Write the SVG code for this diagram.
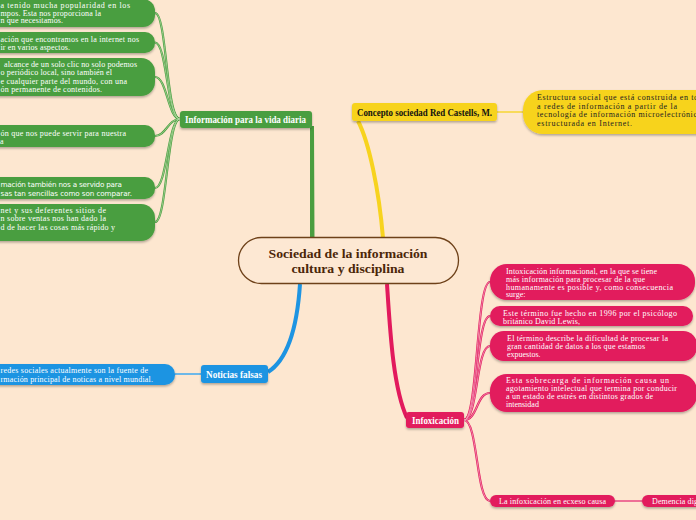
<svg xmlns="http://www.w3.org/2000/svg" width="696" height="520" viewBox="0 0 696 520">
<defs>
<filter id="sh" x="-10%" y="-20%" width="120%" height="160%">
<feDropShadow dx="0" dy="1.5" stdDeviation="1" flood-color="#000" flood-opacity="0.3"/>
</filter>
</defs>
<style>
.lf{font-family:"Liberation Serif","DejaVu Serif",serif;font-size:8px;fill:#fff}
.ls{font-family:"DejaVu Sans","Liberation Sans",sans-serif;font-size:7.2px;fill:#fff}
.tt{font-family:"Liberation Serif","DejaVu Serif",serif;font-weight:bold;font-size:9.5px}
.g{fill:#4a9e40}
.y{fill:#f7d31e}
.b{fill:#1d94e2}
.p{fill:#e21a5d}
.gc{fill:none;stroke:#4a9e40;stroke-width:2.2}
.gi{fill:none;stroke:#b9dea9;stroke-width:0.7}
.pc{fill:none;stroke:#e21a5d;stroke-width:2.2}
.pi{fill:none;stroke:#f6b3c8;stroke-width:0.7}
</style>
<rect width="696" height="520" fill="#fde7d0"/>

<g id="connectors">
<path d="M311,238 L313.5,238 L313,127 L311,127 Z" fill="#4a9e40" stroke="#4a9e40" stroke-width="2"/>
<path d="M383,238 C379,190 369,142 358,121" fill="none" stroke="#f7d31e" stroke-width="4"/>
<path d="M300,284 C297,330 287,360 268,372" fill="none" stroke="#1d94e2" stroke-width="4"/>
<path d="M387,284 C390,330 393,388 407,418" fill="none" stroke="#e21a5d" stroke-width="4"/>
<path d="M497,112 L523,112" stroke="#f8da5a" stroke-width="2" fill="none"/>
<path d="M201,374 L175,374" stroke="#6db8e8" stroke-width="2" fill="none"/>
<path d="M615,501 L642,501" stroke="#ee7096" stroke-width="2" fill="none"/>
<g>
<path class="gc" d="M180,119 C166,119 167,13 155,13"/>
<path class="gc" d="M180,119 C167,119 167,42.5 155,42.5"/>
<path class="gc" d="M180,119 C168,119 167,77 155,77"/>
<path class="gc" d="M180,119 C168,119 166,136 155,136"/>
<path class="gc" d="M180,119 C168,119 167,188 155,188"/>
<path class="gc" d="M180,119 C167,119 167,222 155,222"/>
<path class="gi" d="M180,119 C166,119 167,13 155,13"/>
<path class="gi" d="M180,119 C167,119 167,42.5 155,42.5"/>
<path class="gi" d="M180,119 C168,119 167,77 155,77"/>
<path class="gi" d="M180,119 C168,119 166,136 155,136"/>
<path class="gi" d="M180,119 C168,119 167,188 155,188"/>
<path class="gi" d="M180,119 C167,119 167,222 155,222"/>
</g>
<g>
<path class="pc" d="M464,420 C478,420 476,282 490,282"/>
<path class="pc" d="M464,420 C478,420 476,316 490,316"/>
<path class="pc" d="M464,420 C478,420 476,346 490,346"/>
<path class="pc" d="M464,420 C478,420 476,393 490,393"/>
<path class="pc" d="M464,420 C478,420 476,501 490,501"/>
<path class="pi" d="M464,420 C478,420 476,282 490,282"/>
<path class="pi" d="M464,420 C478,420 476,316 490,316"/>
<path class="pi" d="M464,420 C478,420 476,346 490,346"/>
<path class="pi" d="M464,420 C478,420 476,393 490,393"/>
<path class="pi" d="M464,420 C478,420 476,501 490,501"/>
</g>
</g>

<g id="center">
<rect x="238.5" y="237.5" width="220" height="46" rx="23" fill="#fde8d3" stroke="#6e4119" stroke-width="1.3"/>
<text x="348" y="258" text-anchor="middle" font-family="Liberation Serif, DejaVu Serif, serif" font-weight="bold" font-size="13" fill="#4b2608" textLength="159" lengthAdjust="spacingAndGlyphs">Sociedad de la información</text>
<text x="348" y="273" text-anchor="middle" font-family="Liberation Serif, DejaVu Serif, serif" font-weight="bold" font-size="13" fill="#4b2608" textLength="113" lengthAdjust="spacingAndGlyphs">cultura y disciplina</text>
</g>

<g id="info-vida">
<rect class="g" x="180" y="111" width="132" height="17" rx="3" filter="url(#sh)"/>
<text class="tt" x="185" y="122.5" fill="#fff" textLength="121" lengthAdjust="spacingAndGlyphs">Información para la vida diaria</text>
</g>
<g id="g1">
<rect class="g" x="-30" y="-1" width="185" height="28" rx="12" filter="url(#sh)"/>
<text class="lf" x="0.5" y="8" textLength="129.5" lengthAdjust="spacing">a tenido mucha popularidad en los</text>
<text class="lf" x="0.5" y="15.5" textLength="100.5" lengthAdjust="spacing">mpos. Esta nos proporciona la</text>
<text class="lf" x="0.5" y="23" textLength="62.5" lengthAdjust="spacing">n que necesitamos.</text>
</g>
<g id="g2">
<rect class="g" x="-30" y="32" width="185" height="21" rx="10" filter="url(#sh)"/>
<text class="lf" x="0.5" y="41.5" textLength="138.5" lengthAdjust="spacing">ación que encontramos en la internet nos</text>
<text class="lf" x="0.5" y="50" textLength="69.5" lengthAdjust="spacing">ir en varios aspectos.</text>
</g>
<g id="g3">
<rect class="g" x="-30" y="58" width="185" height="38" rx="14" filter="url(#sh)"/>
<text class="lf" x="4" y="66.5" textLength="133" lengthAdjust="spacing">alcance de un solo clic no solo podemos</text>
<text class="lf" x="0.5" y="75" textLength="111.5" lengthAdjust="spacing">o periódico local, sino también el</text>
<text class="lf" x="0.5" y="83.5" textLength="126.5" lengthAdjust="spacing">e cualquier parte del mundo, con una</text>
<text class="lf" x="0.5" y="92" textLength="101.5" lengthAdjust="spacing">ón permanente de contenidos.</text>
</g>
<g id="g4">
<rect class="g" x="-30" y="125" width="185" height="22" rx="10" filter="url(#sh)"/>
<text class="lf" x="0.5" y="136" textLength="125.5" lengthAdjust="spacing">ón que nos puede servir para nuestra</text>
<text class="lf" x="0" y="143.5">a</text>
</g>
<g id="g5">
<rect class="g" x="-30" y="177" width="185" height="22" rx="10" filter="url(#sh)"/>
<text class="ls" x="0.5" y="187" textLength="121.5" lengthAdjust="spacing">mación también nos a servido para</text>
<text class="ls" x="0.5" y="195.5" textLength="131.5" lengthAdjust="spacing">sas tan sencillas como son comparar.</text>
</g>
<g id="g6">
<rect class="g" x="-30" y="204" width="185" height="37" rx="14" filter="url(#sh)"/>
<text class="lf" x="0.5" y="212.5" textLength="105.5" lengthAdjust="spacing">net y sus deferentes sitios de</text>
<text class="lf" x="0.5" y="221" textLength="105.5" lengthAdjust="spacing">n sobre ventas nos han dado la</text>
<text class="lf" x="0.5" y="229.5" textLength="114.5" lengthAdjust="spacing">d de hacer las cosas más rápido y</text>
</g>

<g id="castells">
<rect class="y" x="352" y="103" width="145" height="18" rx="3" filter="url(#sh)"/>
<text class="tt" x="357" y="115.5" fill="#111" textLength="135" lengthAdjust="spacingAndGlyphs">Concepto sociedad Red Castells, M.</text>
</g>
<g id="castells-leaf">
<rect class="y" x="523" y="90" width="200" height="44" rx="20" filter="url(#sh)"/>
<text class="lf" x="537" y="100" style="fill:#222" textLength="161" lengthAdjust="spacing">Estructura social  que está construida en to</text>
<text class="lf" x="537" y="108.5" style="fill:#222" textLength="140" lengthAdjust="spacing">a redes de información a partir de la</text>
<text class="lf" x="537" y="117" style="fill:#222" textLength="160" lengthAdjust="spacing">tecnología de información microelectrónic</text>
<text class="lf" x="537" y="125.5" style="fill:#222" textLength="95" lengthAdjust="spacing">estructurada en Internet.</text>
</g>

<g id="noticias">
<rect class="b" x="201" y="365" width="67" height="18" rx="3" filter="url(#sh)"/>
<text class="tt" x="206" y="377.5" fill="#fff" textLength="56" lengthAdjust="spacingAndGlyphs">Noticias falsas</text>
</g>
<g id="noticias-leaf">
<rect class="b" x="-30" y="364" width="205" height="21" rx="10" filter="url(#sh)"/>
<text class="lf" x="0.5" y="373" textLength="147.5" lengthAdjust="spacing">redes sociales actualmente son la fuente de</text>
<text class="lf" x="0.5" y="382" textLength="152.5" lengthAdjust="spacing">rmación principal de noticas a nivel mundial.</text>
</g>

<g id="infoxicacion">
<rect class="p" x="406" y="412" width="58" height="16" rx="3" filter="url(#sh)"/>
<text class="tt" x="412" y="423.5" fill="#fff" textLength="47" lengthAdjust="spacingAndGlyphs">Infoxicación</text>
</g>
<g id="p1">
<rect class="p" x="490" y="264" width="205" height="36" rx="17" filter="url(#sh)"/>
<text class="lf" x="506" y="274" textLength="151" lengthAdjust="spacing">Intoxicación informacional, en la que se tiene</text>
<text class="lf" x="506" y="281.5" textLength="139" lengthAdjust="spacing">más información para procesar de la que</text>
<text class="lf" x="506" y="289.5" textLength="167" lengthAdjust="spacing">humanamente es posible y, como consecuencia</text>
<text class="lf" x="506" y="297">surge:</text>
</g>
<g id="p2">
<rect class="p" x="490" y="306" width="203" height="20" rx="10" filter="url(#sh)"/>
<text class="lf" x="503" y="315.5" textLength="174" lengthAdjust="spacing">Este término fue hecho en 1996 por el psicólogo</text>
<text class="lf" x="503" y="323.5" textLength="77" lengthAdjust="spacing">británico David  Lewis,</text>
</g>
<g id="p3">
<rect class="p" x="490" y="331" width="207" height="30" rx="14" filter="url(#sh)"/>
<text class="lf" x="507" y="341" textLength="161" lengthAdjust="spacing">El término describe la dificultad de procesar la</text>
<text class="lf" x="507" y="349" textLength="138" lengthAdjust="spacing">gran cantidad de datos a los que estamos</text>
<text class="lf" x="507" y="357">expuestos.</text>
</g>
<g id="p4">
<rect class="p" x="490" y="374" width="207" height="38" rx="17" filter="url(#sh)"/>
<text class="lf" x="506" y="382.5" textLength="163" lengthAdjust="spacing">Esta  sobrecarga  de  información  causa  un</text>
<text class="lf" x="506" y="390.5" textLength="171" lengthAdjust="spacing">agotamiento intelectual que termina por conducir</text>
<text class="lf" x="506" y="398.5" textLength="147" lengthAdjust="spacing">a un estado de estrés en distintos grados de</text>
<text class="lf" x="506" y="406.5">intensidad</text>
</g>
<g id="p5">
<rect class="p" x="490" y="495" width="125" height="12" rx="6" filter="url(#sh)"/>
<text class="lf" x="499" y="504" textLength="107" lengthAdjust="spacing">La infoxicación en ecxeso causa</text>
</g>
<g id="p6">
<rect class="p" x="642" y="495" width="70" height="12" rx="6" filter="url(#sh)"/>
<text class="lf" x="652" y="504" textLength="46" lengthAdjust="spacing">Demencia dig</text>
</g>
</svg>
